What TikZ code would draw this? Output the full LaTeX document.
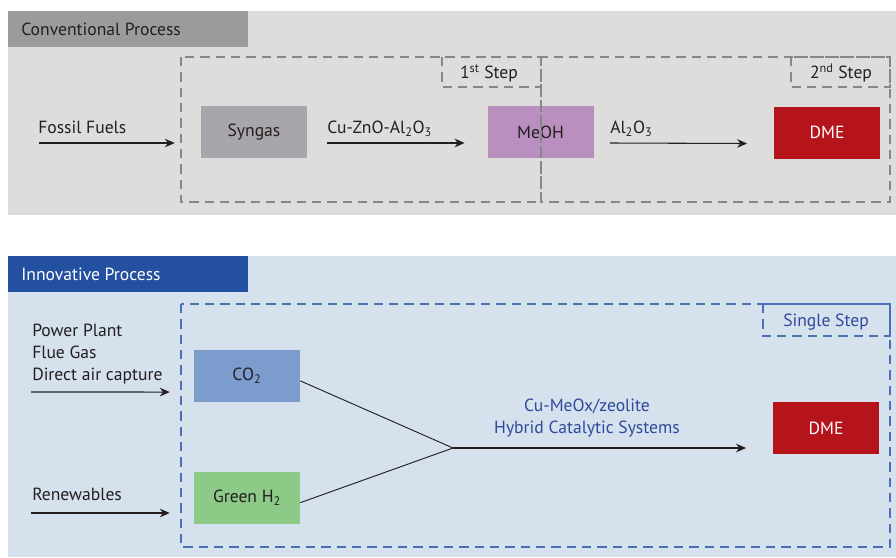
\documentclass[tikz,border=0pt]{standalone}
\usepackage{fontspec}
\setmainfont{PT Sans}
\usetikzlibrary{arrows.meta}
\definecolor{panelgray}{HTML}{DDDDDC}
\definecolor{titlegray}{HTML}{9A9C9B}
\definecolor{panelblue}{HTML}{D6E1EE}
\definecolor{titleblue}{HTML}{2350A0}
\definecolor{syngasc}{HTML}{A9A6AB}
\definecolor{meohc}{HTML}{B98FBF}
\definecolor{dmec}{HTML}{B5141B}
\definecolor{co2c}{HTML}{7B9CCC}
\definecolor{h2c}{HTML}{8DCA87}
\definecolor{dashgray}{HTML}{85878A}
\definecolor{dashblue}{HTML}{4A6FB5}
\definecolor{textblue}{HTML}{2F4A9A}
\definecolor{ink}{HTML}{231F20}
\tikzset{
  proc/.style={minimum width=79.5pt, minimum height=39pt, inner sep=0pt, font=\fontsize{13.2}{15}\selectfont, text=ink},
  lbl/.style={inner sep=0pt, font=\fontsize{13.2}{16.2}\selectfont, text=ink},
  flow/.style={draw=ink, line width=0.8pt, -{Stealth[length=7.5pt,width=6.5pt]}},
  link/.style={draw=ink, line width=0.7pt},
  dashg/.style={draw=dashgray, line width=0.8pt, dash pattern=on 7pt off 4.5pt},
  dashb/.style={draw=dashblue, line width=0.8pt, dash pattern=on 7pt off 4.5pt},
}
\begin{document}
\begin{tikzpicture}[x=0.75pt, y=-0.75pt]
\useasboundingbox (0,0) rectangle (896,557);
% panels
\fill[panelgray] (8,11) rectangle (896,215);
\fill[titlegray] (8,11) rectangle (248,47);
\node[lbl, anchor=base west] (t1) at (21,35.5) {Conventional Process};
\fill[panelblue] (8,256) rectangle (896,557);
\fill[titleblue] (8,256) rectangle (248,292);
\node[lbl, anchor=base west, text=white] (t2) at (21,280) {Innovative Process};

% top row boxes
\node[proc, fill=syngasc] (syngas) at (254,132) {Syngas};
\node[proc, fill=meohc] (meoh) at (540.5,132) {MeOH};
\node[proc, fill=dmec, text=white] (dme1) at (827,132.5) {DME};

% top dashed boxes
\draw[dashg] (181,57) rectangle (541,202);
\draw[dashg] (541,57) rectangle (890,202);
\draw[dashg] (442,57) rectangle (541,87);
\draw[dashg] (791,57) rectangle (890,87);
\node[lbl, anchor=base] (s1) at (489,78) {1\textsuperscript{st} Step};
\node[lbl, anchor=base] (s2) at (841,78) {2\textsuperscript{nd} Step};

% top labels and arrows
\node[lbl, anchor=base west] (ff) at (38,133) {Fossil Fuels};
\node[lbl, anchor=base west] (cat1) at (327,133) {Cu-ZnO-Al\textsubscript{2}O\textsubscript{3}};
\node[lbl, anchor=base west] (cat2) at (610,133) {Al\textsubscript{2}O\textsubscript{3}};
\coordinate (ffs) at (39,143);
\draw[flow] (ffs) -- ([yshift=-8.25pt,xshift=-19.5pt]syngas.west);
\draw[flow] ([yshift=-8.25pt,xshift=15pt]syngas.east) -- ([yshift=-8.25pt,xshift=-17pt]meoh.west);
\draw[flow] ([yshift=-8.25pt,xshift=12pt]meoh.east) -- ([yshift=-8.25pt,xshift=-20pt]dme1.west);

% bottom boxes
\node[proc, fill=co2c] (co2) at (247,375.5) {CO\textsubscript{2}};
\node[proc, fill=h2c] (h2) at (247,498) {Green H\textsubscript{2}};
\node[proc, fill=dmec, text=white] (dme2) at (826,428) {DME};

% bottom dashed
\draw[dashb] (181,304) rectangle (890,547);
\draw[dashb] (763,304) rectangle (890,336);
\node[lbl, anchor=base, text=textblue] (s3) at (826,326) {Single Step};

% bottom labels
\node[lbl, anchor=base west, align=left] (src) at (32,380) {Power Plant\\Flue Gas\\Direct air capture};
\node[lbl, anchor=base west] (ren) at (32,500.5) {Renewables};
\node[lbl, anchor=base, align=center, text=textblue] (cat3) at (587,433) {Cu-MeOx/zeolite\\Hybrid Catalytic Systems};

\coordinate (srcs) at (31,392);
\coordinate (rens) at (31,513);
\coordinate (jn) at (453,448);
\draw[flow] (srcs) -- ([yshift=-12.4pt,xshift=-18pt]co2.west);
\draw[flow] (rens) -- ([yshift=-11.25pt,xshift=-18pt]h2.west);
\draw[link] ([yshift=-4pt]co2.east) -- (jn);
\draw[link] ([yshift=-3.5pt]h2.east) -- (jn);
\draw[flow] (jn) -- ([yshift=-15pt,xshift=-20pt]dme2.west);
\end{tikzpicture}
\end{document}
